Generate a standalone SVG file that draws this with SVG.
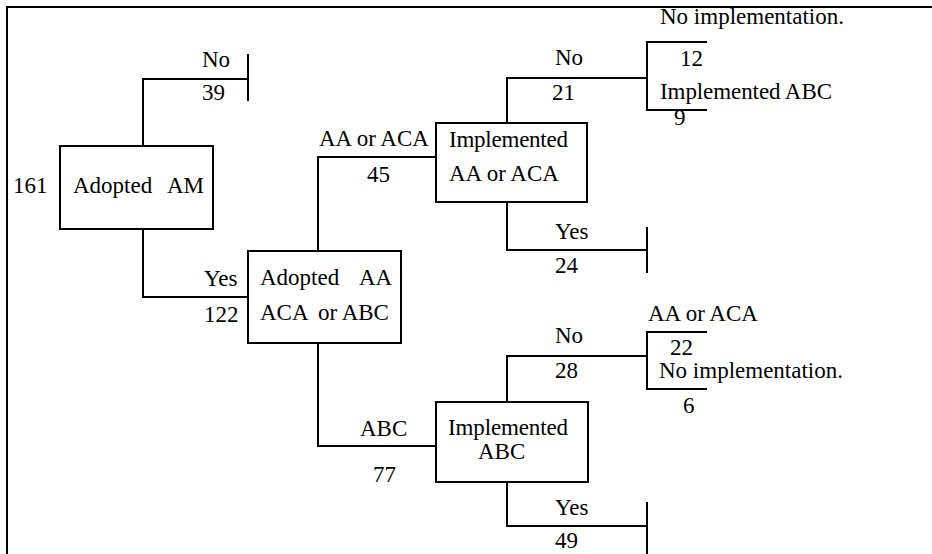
<svg xmlns="http://www.w3.org/2000/svg" width="932" height="554" viewBox="0 0 932 554">
<style>
text{font-family:'Liberation Serif','Times New Roman','DejaVu Serif',serif;font-size:23px;fill:#000}
.ln{fill:none;stroke:#000;stroke-width:2}
.box{fill:#fff;stroke:#000;stroke-width:2}
</style>
<rect width="932" height="554" fill="#fff"/>
<path class="ln" d="M932 7 H7 V554"/>
<g id="connectors">
<path class="ln" d="M143 146 V79 H248 M248 54 V101"/>
<path class="ln" d="M143 229 V297 H248"/>
<path class="ln" d="M318 251 V157 H436"/>
<path class="ln" d="M318 343 V446 H436"/>
<path class="ln" d="M507 123 V78 H647 M707 42 H647 V110 H707"/>
<path class="ln" d="M507 202 V250 H647 M647 227 V273"/>
<path class="ln" d="M507 402 V356 H647 M707 332 H647 V389 H707"/>
<path class="ln" d="M507 482 V526 H647 M647 502 V554"/>
</g>
<g id="adopted-am">
<rect class="box" x="60" y="146" width="153" height="83"/>
<text x="73" y="193">Adopted</text><text x="167" y="193">AM</text>
</g>
<g id="adopted-aa">
<rect class="box" x="248" y="251" width="153" height="92"/>
<text x="260" y="285">Adopted</text><text x="359" y="285">AA</text>
<text x="260" y="320">ACA</text><text x="318" y="320">or ABC</text>
</g>
<g id="implemented-aa">
<rect class="box" x="436" y="123" width="151" height="79"/>
<text x="449" y="147" textLength="119" lengthAdjust="spacing">Implemented</text>
<text x="449" y="181">AA or ACA</text>
</g>
<g id="implemented-abc">
<rect class="box" x="436" y="402" width="152" height="80"/>
<text x="448" y="435" textLength="120" lengthAdjust="spacing">Implemented</text>
<text x="478" y="459">ABC</text>
</g>
<g id="labels">
<text x="13" y="193">161</text>
<text x="202" y="67">No</text>
<text x="202" y="100">39</text>
<text x="204" y="286">Yes</text>
<text x="204" y="322">122</text>
<text x="319" y="146">AA or ACA</text>
<text x="367" y="182">45</text>
<text x="360" y="436">ABC</text>
<text x="373" y="482">77</text>
<text x="555" y="65">No</text>
<text x="552" y="100">21</text>
<text x="555" y="239">Yes</text>
<text x="555" y="273">24</text>
<text x="555" y="343">No</text>
<text x="555" y="378">28</text>
<text x="555" y="515">Yes</text>
<text x="555" y="548">49</text>
<text x="660" y="24">No implementation.</text>
<text x="680" y="66">12</text>
<text x="660" y="99" textLength="172" lengthAdjust="spacing">Implemented ABC</text>
<text x="674" y="125">9</text>
<text x="648" y="321">AA or ACA</text>
<text x="670" y="355">22</text>
<text x="659" y="378">No implementation.</text>
<text x="683" y="413">6</text>
</g>
</svg>
